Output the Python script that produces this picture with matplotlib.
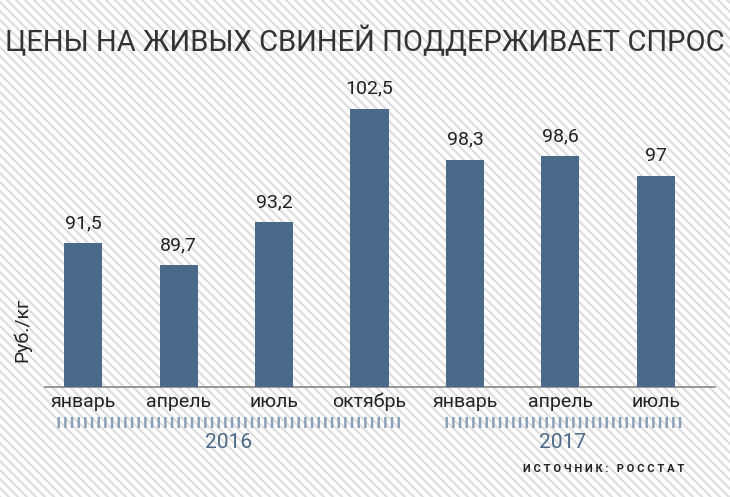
import matplotlib
matplotlib.use("Agg")
import matplotlib.pyplot as plt
from matplotlib.lines import Line2D

months = ["январь", "апрель", "июль", "октябрь", "январь", "апрель", "июль"]
values = [91.5, 89.7, 93.2, 102.5, 98.3, 98.6, 97]
labels = ["91,5", "89,7", "93,2", "102,5", "98,3", "98,6", "97"]
years = ["2016", "2017"]

FONT = ["Liberation Sans Narrow", "Roboto", "DejaVu Sans"]
plt.rcParams["font.family"] = FONT

W, H = 730, 497
fig = plt.figure(figsize=(W/100, H/100), dpi=100)
fig.patch.set_facecolor("white")

# diagonal hatching background
for k in range(-H, W + H, 9):
    fig.add_artist(Line2D([k/W, (k+H)/W], [1, 0], transform=fig.transFigure,
                          color="#dedede", lw=1.6, zorder=0))

ax = fig.add_axes([45/W, 1-387/H, 670/W, 287/H])
ax.patch.set_alpha(0)
x = list(range(len(values)))
ax.bar(x, values, width=0.4, color="#4b6a89", zorder=3)
for xi, v, l in zip(x, values, labels):
    ax.text(xi, v + 0.9, l, ha="center", va="bottom", fontsize=14, color="#222222")
ax.set_xlim(-0.40, 6.62)
ax.set_ylim(79.7, 103.2)
for s in ["top", "right", "left"]:
    ax.spines[s].set_visible(False)
ax.spines["bottom"].set_color("#888888")
ax.spines["bottom"].set_linewidth(1.2)
ax.set_yticks([])
ax.set_xticks(x)
ax.set_xticklabels(months, fontsize=14, color="#222222")
ax.tick_params(axis="x", length=0, pad=4)
ax.set_ylabel("Руб./кг", fontsize=14, color="#222222", labelpad=6)
ax.yaxis.set_label_coords(-0.02, 0.2)

fig.text(0.5, 1-42/H, "ЦЕНЫ НА ЖИВЫХ СВИНЕЙ ПОДДЕРЖИВАЕТ СПРОС", ha="center", va="center",
         fontsize=21, color="#333333")

# year rulers
for x0, x1, yr, xc in [(57, 402, years[0], 229), (445, 683, years[1], 563)]:
    fig.add_artist(Line2D([x0/W, x1/W], [1-422/H, 1-422/H], transform=fig.transFigure,
                          color="#8aa0b6", lw=8, dashes=(0.22, 0.38), solid_capstyle="butt",
                          dash_capstyle="butt"))
    fig.text(xc/W, 1-443/H, yr, ha="center", va="center", fontsize=15,
             color="#4b6a89")

fig.text(684/W, 1-469/H, "И С Т О Ч Н И К :   Р О С С Т А Т", ha="right", va="center",
         fontsize=8, fontweight="bold", color="#222222")

fig.savefig("out.png", dpi=100, facecolor=fig.get_facecolor())
